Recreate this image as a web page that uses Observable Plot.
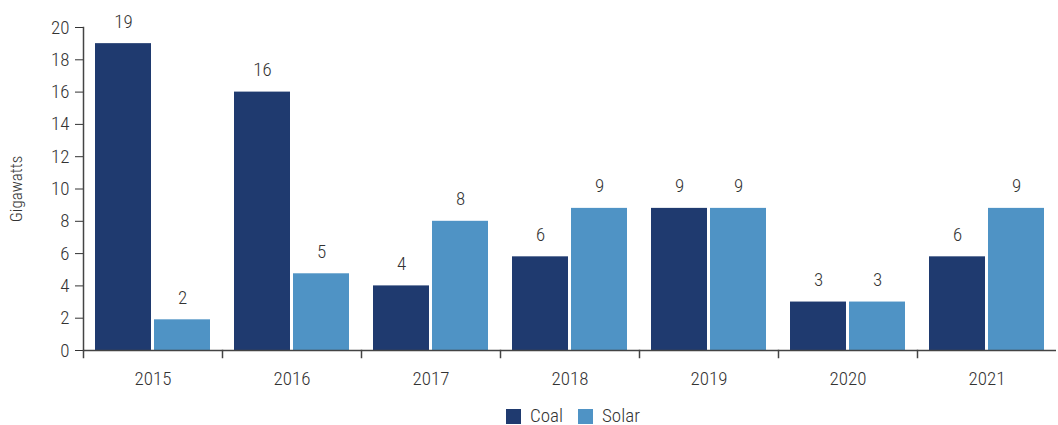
<!DOCTYPE html>
<html>
<head>
<meta charset="utf-8">
<script src="https://cdn.jsdelivr.net/npm/d3@7"></script>
<script src="https://cdn.jsdelivr.net/npm/@observablehq/plot@0.6"></script>
<style>
  body { margin: 0; background: #fff; font-family: "Roboto Condensed", "Roboto", sans-serif; font-weight: 300; color: #333; }
  #chart svg { display: block; }
  #chart svg text { font-weight: 300; }
  .legend { display: flex; justify-content: flex-start; align-items: center; padding-top: 16px; padding-left: 506px; font-size: 19px; line-height: 20px; }
  .legend .item { display: flex; align-items: center; margin-right: 15px; }
  .legend .sw { width: 15px; height: 15px; margin-right: 9px; }
</style>
</head>
<body>
<div id="chart"></div>
<script>
const years = ["2015", "2016", "2017", "2018", "2019", "2020", "2021"];
const series = ["Coal", "Solar"];
const coal = [19, 16, 4, 5.8, 8.8, 3, 5.8];
const solar = [1.9, 4.75, 8, 8.8, 8.8, 3, 8.8];
const colors = ["#1f3a6f", "#4f93c5"];
const yTicks = [0, 2, 4, 6, 8, 10, 12, 14, 16, 18, 20];

const data = [];
years.forEach((y, i) => {
  data.push({year: y, type: "Coal", value: coal[i]});
  data.push({year: y, type: "Solar", value: solar[i]});
});

const font = '"Roboto Condensed", "Roboto", sans-serif';

const chart = Plot.plot({
  width: 1058,
  height: 390,
  marginTop: 27,
  marginBottom: 40,
  marginLeft: 81,
  marginRight: 0,
  style: {fontFamily: font, fontSize: "19px", color: "#333", background: "#fff"},
  fx: {domain: years, padding: 0, label: null, axis: null},
  x: {domain: series, paddingInner: 0.05, paddingOuter: 0.19, axis: null},
  y: {domain: [0, 20], axis: null},
  color: {domain: series, range: colors},
  facet: {data, x: "year"},
  marks: [
    Plot.axisFx({anchor: "bottom", tickSize: 0, tickPadding: 21, label: null, fontSize: 19}),
    Plot.axisY(yTicks, {anchor: "left", tickSize: 8, tickPadding: 6, label: "Gigawatts", labelAnchor: "center", labelArrow: "none", labelOffset: 74, fontSize: 19, facetAnchor: "left"}),
    Plot.barY(data, {fx: "year", x: "type", y: "value", fill: "type"}),
    Plot.text(data, {fx: "year", x: "type", y: "value", text: d => Math.round(d.value), dy: -22, fontSize: 19, fill: "#333"}),
    Plot.ruleY([0], {stroke: "#444", strokeWidth: 1.5}),
    Plot.frame({anchor: "left", facetAnchor: "left", stroke: "#444", strokeWidth: 1.5}),
    Plot.frame({anchor: "left", insetTop: 323, insetBottom: -7, stroke: "#444", strokeWidth: 1.5})
  ]
});
document.getElementById("chart").appendChild(chart);

d3.select(chart).selectAll("text").filter(function() { return this.textContent === "Gigawatts"; }).attr("font-size", 17);

const legend = d3.select("body").append("div").attr("class", "legend");
series.forEach((s, i) => {
  const it = legend.append("div").attr("class", "item");
  it.append("div").attr("class", "sw").style("background", colors[i]);
  it.append("span").text(s);
});
</script>
</body>
</html>
